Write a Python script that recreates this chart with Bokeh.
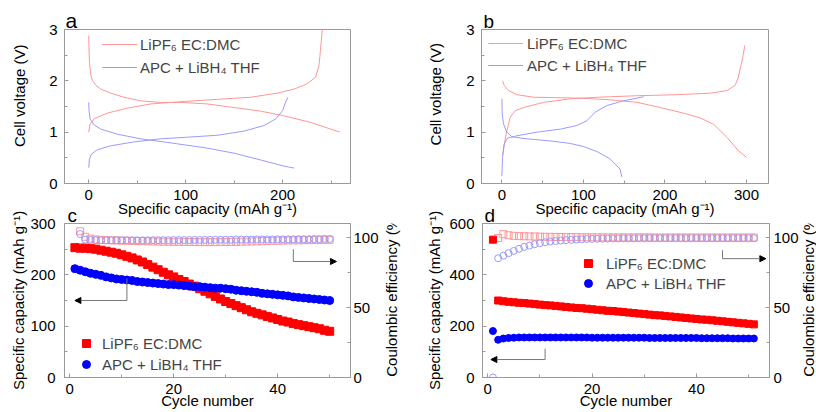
import math
from bokeh.plotting import figure
from bokeh.layouts import column, row
from bokeh.models import (Range1d, LinearAxis, SingleIntervalTicker, Legend, LegendItem,
                          Arrow, NormalHead)
from bokeh.core.properties import value
from bokeh.embed import file_html
from bokeh.resources import INLINE

# ---------------- data ----------------
LBL_LIPF6 = "LiPF\u2086 EC:DMC"
LBL_APC = "APC + LiBH\u2084 THF"

# panel a : capacity (mAh g-1) / voltage (V)
a_lipf6_dis_x = [0, 0.3, 0.8, 2.0, 4.0, 7.5, 12.4, 22.7, 36.4, 53.6, 74, 100, 122, 150, 177, 201, 229, 259]
a_lipf6_dis_y = [2.88, 2.6, 2.35, 2.12, 2.0, 1.91, 1.84, 1.76, 1.68, 1.61, 1.58, 1.575, 1.55, 1.48, 1.41, 1.32, 1.19, 1.00]
a_lipf6_chg_x = [0, 1.4, 5.5, 19, 40, 64, 100, 133, 167, 194.5, 212, 225, 234, 237.5, 239, 241]
a_lipf6_chg_y = [1.0, 1.16, 1.26, 1.37, 1.47, 1.55, 1.60, 1.64, 1.68, 1.76, 1.84, 1.94, 2.07, 2.30, 2.59, 3.0]
a_apc_dis_x = [0, 0.3, 1.4, 5.5, 12.4, 29.6, 53.6, 81, 100, 122, 150, 177, 201, 212]
a_apc_dis_y = [1.58, 1.42, 1.26, 1.14, 1.06, 0.96, 0.87, 0.80, 0.75, 0.69, 0.59, 0.46, 0.34, 0.30]
a_apc_chg_x = [0, 0.7, 2.7, 9, 22.7, 46.7, 74, 100, 133, 160, 181, 193, 200, 203, 205.5]
a_apc_chg_y = [0.31, 0.475, 0.57, 0.66, 0.735, 0.81, 0.87, 0.90, 0.94, 1.02, 1.13, 1.26, 1.42, 1.58, 1.68]

# panel b
b_lipf6_dis_x = [0.8, 2.9, 8.2, 18.4, 39, 72, 100, 133, 166, 194, 223, 243, 260, 276, 290, 300]
b_lipf6_dis_y = [2.00, 1.91, 1.81, 1.73, 1.68, 1.67, 1.66, 1.63, 1.58, 1.48, 1.37, 1.28, 1.15, 0.90, 0.64, 0.51]
b_lipf6_chg_x = [0.8, 2.9, 6.1, 10.2, 16.4, 26.6, 51, 84, 117, 166, 215, 256, 276, 286, 290, 294.5, 298]
b_lipf6_chg_y = [0.54, 0.77, 1.03, 1.29, 1.42, 1.48, 1.58, 1.65, 1.68, 1.71, 1.73, 1.76, 1.81, 1.91, 2.07, 2.39, 2.69]
b_apc_dis_x = [0, 0.4, 2, 6.1, 12.3, 30.7, 59, 84, 100, 117, 133, 145, 147]
b_apc_dis_y = [1.65, 1.35, 1.16, 1.0, 0.91, 0.87, 0.83, 0.78, 0.72, 0.62, 0.475, 0.28, 0.13]
b_apc_chg_x = [0, 0.8, 2.9, 7, 18.4, 43, 72, 92, 104, 114.5, 129, 149, 174]
b_apc_chg_y = [0.15, 0.51, 0.77, 0.885, 0.93, 1.0, 1.06, 1.13, 1.22, 1.39, 1.52, 1.61, 1.69]

# panel c : cycling (capacity, mAh g-1) and coulombic efficiency (%)
c_cycles = list(range(1, 51))
c_cap_lipf6 = [253, 252, 252, 251, 250, 248, 246, 244, 242, 239,
               236, 233, 229, 225, 220, 215, 210, 205, 200, 196,
               191, 187, 182, 178, 173, 168, 163, 158, 153, 148,
               144, 140, 136, 132, 128, 125, 122, 119, 116, 113,
               110, 108, 105, 103, 101, 99, 97, 95, 92, 90]
c_cap_apc = [212, 209, 206, 203, 201, 199, 196, 194, 192, 191,
             190, 189, 187, 186, 185, 184, 183, 182, 181, 181,
             180, 179, 178, 177, 177, 176, 175, 174, 174, 173,
             172, 170, 169, 168, 167, 166, 164, 163, 162, 161,
             160, 159, 157, 156, 155, 154, 153, 152, 151, 150]
c_ce_cycles = list(range(2, 51))
c_ce_lipf6 = [104.5, 100.5, 99.2, 98.6, 98.3, 98.1, 98.0, 97.9, 97.8, 97.7,
              97.6, 97.5, 97.4, 97.3, 97.2, 97.1, 97.0, 97.0, 96.9, 96.9,
              96.8, 96.8, 96.8, 96.7, 96.7, 96.7, 96.7, 96.8, 96.8, 96.9,
              96.9, 97.0, 97.1, 97.2, 97.3, 97.4, 97.5, 97.6, 97.7, 97.8,
              97.9, 98.0, 98.0, 98.1, 98.1, 98.2, 98.2, 98.3, 98.3]
c_ce_apc = [102.5, 98.5, 98.2, 98.1, 98.0, 98.0, 98.0, 98.0, 98.0, 98.0,
            98.0, 98.0, 98.0, 98.0, 98.1, 98.1, 98.1, 98.1, 98.2, 98.2,
            98.2, 98.2, 98.3, 98.3, 98.3, 98.3, 98.4, 98.4, 98.4, 98.4,
            98.5, 98.5, 98.5, 98.5, 98.6, 98.6, 98.6, 98.6, 98.7, 98.7,
            98.7, 98.7, 98.8, 98.8, 98.8, 98.9, 98.9, 99.0, 99.0]

# panel d
d_cycles = list(range(1, 52))
d_cap_lipf6 = [537,
               300, 297, 295, 293, 291, 290, 288, 286, 284, 282,
               281, 279, 277, 275, 273, 271, 270, 268, 266, 264,
               262, 260, 259, 257, 255, 253, 251, 249, 247, 245,
               243, 242, 240, 238, 236, 234, 232, 230, 228, 226,
               225, 223, 221, 219, 217, 215, 213, 211, 209, 207]
d_cap_apc = [181, 147, 152, 154, 155, 156, 156, 156, 156, 156,
             156, 156, 156, 156, 156, 156, 156, 156, 156, 155,
             155, 155, 155, 155, 155, 155, 155, 155, 155, 155,
             154, 154, 154, 154, 154, 154, 154, 154, 154, 154,
             153, 153, 153, 153, 153, 153, 152, 152, 152, 152,
             152]
d_ce_cycles_lipf6 = list(range(2, 52))
d_ce_lipf6 = [99.6, 102.4, 101.6, 101.2, 101.0, 100.9, 100.8, 100.7, 100.6, 100.5,
              100.5, 100.4, 100.4, 100.3, 100.3, 100.3, 100.2, 100.2, 100.2, 100.1,
              100.1, 100.1, 100.1, 100.1, 100.1, 100.1, 100.1, 100.1, 100.1, 100.1,
              100.0, 100.0, 100.0, 100.0, 100.0, 100.0, 100.0, 100.0, 100.0, 100.0,
              100.0, 100.0, 100.0, 100.0, 100.0, 100.0, 100.0, 100.0, 100.0, 100.0]
d_ce_apc = [0.0, 85.2, 87.0, 88.8, 90.4, 91.9, 93.3, 94.2, 95.2, 96.0,
            96.6, 97.1, 97.5, 97.8, 98.1, 98.3, 98.5, 98.7, 98.9, 99.0,
            99.1, 99.2, 99.2, 99.3, 99.3, 99.4, 99.4, 99.4, 99.5, 99.5,
            99.5, 99.5, 99.5, 99.5, 99.5, 99.5, 99.5, 99.5, 99.5, 99.5,
            99.5, 99.5, 99.5, 99.5, 99.5, 99.5, 99.5, 99.5, 99.5, 99.5,
            99.5]

# ---------------- style ----------------
FONT = "Liberation Sans"
FS = "15px"
GRAY = "#9a9a9a"
RED = "#ff0000"
BLUE = "#0000ff"
RED_L = "#ff9696"
BLUE_L = "#9a9aff"
ARROW_C = "#777777"


def base_fig(letter, letter_size, letter_offset, xr, yr, mbl, fw, mbr, mbt, fh, mbb):
    p = figure(title=letter, x_range=Range1d(*xr), y_range=Range1d(*yr),
               frame_width=fw, frame_height=fh,
               min_border_left=mbl, min_border_right=mbr,
               min_border_top=mbt, min_border_bottom=mbb,
               output_backend="svg", toolbar_location=None, tools="")
    p.title.align = "left"
    p.title.offset = letter_offset
    p.title.standoff = -5
    p.title.text_font = FONT
    p.title.text_font_size = letter_size
    p.title.text_font_style = "normal"
    p.title.text_color = "black"
    p.xgrid.visible = False
    p.ygrid.visible = False
    p.outline_line_color = GRAY
    p.outline_line_width = 1
    p.background_fill_color = None
    p.border_fill_color = None
    return p


def text_strip(w, h, txt, fx, fy):
    # narrow transparent figure that only carries a vertical (bottom-to-top) axis title
    s = figure(title=None, title_location=None, width=w, height=h,
               x_range=Range1d(0, 1), y_range=Range1d(0, 1),
               min_border=0, x_axis_location=None, y_axis_location=None,
               output_backend="svg", toolbar_location=None, tools="")
    s.xgrid.visible = False
    s.ygrid.visible = False
    s.outline_line_color = None
    s.background_fill_color = None
    s.border_fill_color = None
    s.text(x=[fx], y=[fy], text=[txt], angle=math.pi / 2, text_align="center",
           text_baseline="middle", text_font=value(FONT), text_font_size=value(FS),
           text_color="black")
    return s


def style_axis(ax, interval, label, std, lstd):
    ax.ticker = SingleIntervalTicker(interval=interval, num_minor_ticks=2)
    ax.axis_label = label
    ax.axis_line_color = GRAY
    ax.major_tick_line_color = GRAY
    ax.minor_tick_line_color = GRAY
    ax.major_tick_in = 4
    ax.major_tick_out = 0
    ax.minor_tick_in = 3
    ax.minor_tick_out = 0
    ax.major_label_text_font = FONT
    ax.major_label_text_font_size = FS
    ax.major_label_text_color = "black"
    ax.axis_label_text_font = FONT
    ax.axis_label_text_font_size = FS
    ax.axis_label_text_font_style = "normal"
    ax.axis_label_text_color = "black"
    ax.major_label_standoff = std
    ax.axis_label_standoff = lstd


def add_legend(p, items, vx, vy, gw, gh, spacing, standoff):
    leg = Legend(items=items, location=(vx, vy), glyph_width=gw, glyph_height=gh,
                 label_height=gh, label_width=10, spacing=spacing, padding=0, margin=0,
                 label_standoff=standoff, border_line_color=None,
                 background_fill_color=None,
                 label_text_font=FONT, label_text_font_size=FS)
    p.add_layout(leg)


CAP_LABEL = "Specific capacity (mAh g\u207b\u00b9)"
CE_LABEL = "Coulombic efficiency (%)"
V_LABEL = "Cell voltage (V)"
FH = 154
TOP_H = 29 + FH + 38
BOT_H = 22 + FH + 35

# ---------------- panel a ----------------
sa = text_strip(34, TOP_H, V_LABEL, 0.56, 0.57)
pa = base_fig("a", "21px", 1, (-25, 270), (0, 3), 30, 286, 60, 29, FH, 38)
style_axis(pa.xaxis[0], 100, CAP_LABEL, 6, -3)
style_axis(pa.yaxis[0], 1, None, 7, 0)
r1 = pa.line(a_lipf6_dis_x, a_lipf6_dis_y, line_color=RED_L, line_width=1)
r2 = pa.line(a_lipf6_chg_x, a_lipf6_chg_y, line_color=RED_L, line_width=1)
r3 = pa.line(a_apc_dis_x, a_apc_dis_y, line_color=BLUE_L, line_width=1)
r4 = pa.line(a_apc_chg_x, a_apc_chg_y, line_color=BLUE_L, line_width=1)
add_legend(pa, [LegendItem(label=LBL_LIPF6, renderers=[r1, r2]),
                LegendItem(label=LBL_APC, renderers=[r3, r4])], 38, 106, 35, 20, 3, 3)

# ---------------- panel b ----------------
sb = text_strip(39, TOP_H, V_LABEL, 0.64, 0.58)
pb = base_fig("b", "19px", 2, (-25, 327), (0, 3), 32, 287, 47, 29, FH, 38)
style_axis(pb.xaxis[0], 100, CAP_LABEL, 6, -3)
style_axis(pb.yaxis[0], 1, None, 7, 0)
s1 = pb.line(b_lipf6_dis_x, b_lipf6_dis_y, line_color=RED_L, line_width=1)
s2 = pb.line(b_lipf6_chg_x, b_lipf6_chg_y, line_color=RED_L, line_width=1)
s3 = pb.line(b_apc_dis_x, b_apc_dis_y, line_color=BLUE_L, line_width=1)
s4 = pb.line(b_apc_chg_x, b_apc_chg_y, line_color=BLUE_L, line_width=1)
add_legend(pb, [LegendItem(label=LBL_LIPF6, renderers=[s1, s2]),
                LegendItem(label=LBL_APC, renderers=[s3, s4])], 7, 108, 35, 20, 2, 4)

# ---------------- panel c ----------------
pc = base_fig("c", "19px", 3, (-1, 54), (0, 300), 64, 286, 30, 22, FH, 35)
pc.extra_y_ranges = {"ce": Range1d(0, 110)}
style_axis(pc.xaxis[0], 20, "Cycle number", 6, -5)
style_axis(pc.yaxis[0], 100, CAP_LABEL, 9, 0)
ax_c = LinearAxis(y_range_name="ce")
style_axis(ax_c, 50, None, 3, 0)
pc.add_layout(ax_c, "right")
pc.scatter(c_ce_cycles, c_ce_lipf6, y_range_name="ce", marker="square", size=7,
           fill_color=None, line_color=RED_L, line_width=1)
pc.scatter(c_ce_cycles, c_ce_apc, y_range_name="ce", marker="circle", size=7,
           fill_color=None, line_color=BLUE_L, line_width=1)
q1 = pc.scatter(c_cycles, c_cap_lipf6, marker="square", size=8, fill_color=RED, line_color=RED)
q2 = pc.scatter(c_cycles, c_cap_apc, marker="circle", size=8, fill_color=BLUE, line_color=BLUE)
add_legend(pc, [LegendItem(label=LBL_LIPF6, renderers=[q1]),
                LegendItem(label=LBL_APC, renderers=[q2])], 12, 3, 20, 20, 1, 6)
head = dict(size=6, fill_color="black", line_color="black")
pc.add_layout(Arrow(end=None, x_start=11, y_start=193, x_end=11, y_end=150, line_color=ARROW_C, line_width=1))
pc.add_layout(Arrow(end=NormalHead(**head), x_start=11, y_start=150, x_end=1, y_end=150, line_color=ARROW_C, line_width=1))
pc.add_layout(Arrow(end=None, x_start=43, y_start=250, x_end=43, y_end=226, line_color=ARROW_C, line_width=1))
pc.add_layout(Arrow(end=NormalHead(**head), x_start=43, y_start=226, x_end=51.3, y_end=226, line_color=ARROW_C, line_width=1))
sc = text_strip(30, BOT_H, CE_LABEL, 0.34, 0.54)

# ---------------- panel d ----------------
pd_ = base_fig("d", "19px", 2, (-1, 54), (0, 600), 71, 287, 30, 22, FH, 35)
pd_.extra_y_ranges = {"ce": Range1d(0, 110)}
style_axis(pd_.xaxis[0], 20, "Cycle number", 6, -5)
style_axis(pd_.yaxis[0], 200, CAP_LABEL, 8, 3)
ax_d = LinearAxis(y_range_name="ce")
style_axis(ax_d, 50, None, 4, 0)
pd_.add_layout(ax_d, "right")
pd_.scatter(d_ce_cycles_lipf6, d_ce_lipf6, y_range_name="ce", marker="square", size=7,
            fill_color=None, line_color=RED_L, line_width=1)
pd_.scatter(d_cycles, d_ce_apc, y_range_name="ce", marker="circle", size=7,
            fill_color=None, line_color=BLUE_L, line_width=1)
t1 = pd_.scatter(d_cycles, d_cap_lipf6, marker="square", size=7, fill_color=RED, line_color=RED)
t2 = pd_.scatter(d_cycles, d_cap_apc, marker="circle", size=7, fill_color=BLUE, line_color=BLUE)
add_legend(pd_, [LegendItem(label=LBL_LIPF6, renderers=[t1]),
                 LegendItem(label=LBL_APC, renderers=[t2])], 96, 84, 20, 20, 0, 8)
pd_.add_layout(Arrow(end=None, x_start=11, y_start=112, x_end=11, y_end=70, line_color=ARROW_C, line_width=1))
pd_.add_layout(Arrow(end=NormalHead(**head), x_start=11, y_start=70, x_end=0.6, y_end=70, line_color=ARROW_C, line_width=1))
pd_.add_layout(Arrow(end=None, x_start=45, y_start=496, x_end=45, y_end=463, line_color=ARROW_C, line_width=1))
pd_.add_layout(Arrow(end=NormalHead(**head), x_start=45, y_start=463, x_end=53.3, y_end=463, line_color=ARROW_C, line_width=1))
sd = text_strip(17, BOT_H, CE_LABEL, 0.42, 0.54)

layout = column(row(sa, pa, sb, pb), row(pc, sc, pd_, sd, margin=(-20, 0, 0, 0)))
open("out.html", "w").write(file_html(layout, INLINE))
